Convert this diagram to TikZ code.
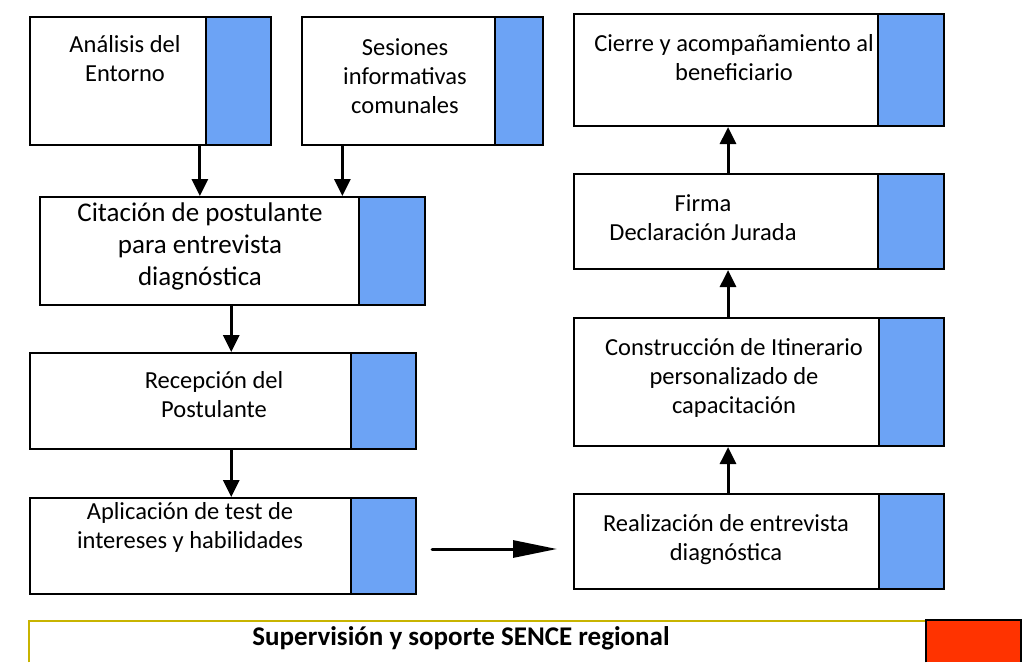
\documentclass[tikz,border=0pt]{standalone}
\usepackage{fontspec}
\setmainfont{Carlito}
\usetikzlibrary{arrows.meta,calc}
\definecolor{boxblue}{RGB}{108,163,245}
\definecolor{sred}{RGB}{255,51,0}
\definecolor{sgold}{RGB}{200,180,0}
\begin{document}
\begin{tikzpicture}[x=1pt,y=-1pt,
  wpart/.style={draw=black, line width=2pt, fill=white, rectangle, inner sep=0pt, anchor=north west},
  bpart/.style={draw=black, line width=2pt, fill=boxblue, rectangle, inner sep=0pt, anchor=north west},
  lbl/.style={align=center, anchor=base, inner sep=0pt, font=\fontsize{24.5}{29}\selectfont, text=black},
  biglbl/.style={lbl, font=\fontsize{27}{32}\selectfont},
  arr/.style={line width=3pt, -{Triangle[length=17pt,width=16pt]}},
  harr/.style={line width=3pt, line cap=round, -{Triangle[length=44pt,width=17pt]}}
]
\useasboundingbox (0,0) rectangle (1024,662);
\fill[white] (0,0) rectangle (1024,662);

% left column
\node[wpart, minimum width=176pt, minimum height=128pt] (w1) at (29,16) {};
\node[bpart, minimum width=65pt, minimum height=128pt] (c1) at (205,16) {};
\node[wpart, minimum width=193pt, minimum height=128pt] (w2) at (301,16) {};
\node[bpart, minimum width=48pt, minimum height=128pt] (c2) at (494,16) {};
\node[wpart, minimum width=319pt, minimum height=108pt] (w3) at (39,196) {};
\node[bpart, minimum width=66pt, minimum height=108pt] (c3) at (358,196) {};
\node[wpart, minimum width=321pt, minimum height=96pt] (w4) at (29,352) {};
\node[bpart, minimum width=65pt, minimum height=96pt] (c4) at (350,352) {};
\node[wpart, minimum width=321pt, minimum height=96pt] (w5) at (29,497) {};
\node[bpart, minimum width=65pt, minimum height=96pt] (c5) at (350,497) {};

% right column
\node[wpart, minimum width=304pt, minimum height=112pt] (w6) at (573,13) {};
\node[bpart, minimum width=66pt, minimum height=112pt] (c6) at (877,13) {};
\node[wpart, minimum width=304pt, minimum height=95pt] (w7) at (573,173) {};
\node[bpart, minimum width=66pt, minimum height=95pt] (c7) at (877,173) {};
\node[wpart, minimum width=305pt, minimum height=128pt] (w8) at (573,317) {};
\node[bpart, minimum width=65pt, minimum height=128pt] (c8) at (878,317) {};
\node[wpart, minimum width=305pt, minimum height=95pt] (w9) at (573,493) {};
\node[bpart, minimum width=65pt, minimum height=95pt] (c9) at (878,493) {};

% labels (anchor = baseline of the last line)
\node[lbl] (t1) at (125,81) {Análisis del\\Entorno};
\node[lbl] (t2) at (405,113) {Sesiones\\informativas\\comunales};
\node[biglbl] (t3) at (200,285) {Citación de postulante\\para entrevista\\diagnóstica};
\node[lbl] (t4) at (214,417) {Recepción del\\Postulante};
\node[lbl] (t5) at (190,548) {Aplicación de test de\\intereses y habilidades};
\node[lbl] (t6) at (734,80) {Cierre y acompañamiento al\\beneficiario};
\node[lbl] (t7) at (703,240) {Firma\\Declaración Jurada};
\node[lbl] (t8) at (734,413) {Construcción de Itinerario\\personalizado de\\capacitación};
\node[lbl] (t9) at (726,560) {Realización de entrevista\\diagnóstica};

% connectors
\draw[arr] ($(w1.south west)!0.96!(w1.south east)$) coordinate (a1) -- (a1 |- w3.north);
\draw[arr] ($(w2.south west)!0.212!(w2.south east)$) coordinate (a2) -- (a2 |- w3.north);
\draw[arr] ($(w3.south west)!0.599!(w3.south east)$) coordinate (a3) -- (a3 |- w4.north);
\draw[arr] (a3 |- w4.south) -- (a3 |- w5.north);
\draw[harr] ($(c5.east)+(15,3)$) coordinate (h1) -- ($(h1 -| w9.west)+(-16,0)$);
\draw[arr] ($(w9.north west)!0.505!(w9.north east)$) coordinate (a6) -- (a6 |- w8.south);
\draw[arr] (a6 |- w8.north) -- (a6 |- w7.south);
\draw[arr] (a6 |- w7.north) -- (a6 |- w6.south);

% bottom band
\node[fill=white, inner sep=0pt, anchor=north west, minimum width=897pt, minimum height=41pt] (sup) at (29,621) {};
\draw[sgold, line width=2pt] (sup.south west) -- (sup.north west) -- (sup.north east);
\node[fill=sred, inner sep=0pt, anchor=north west, minimum width=95pt, minimum height=42pt] (red) at (926,620) {};
\draw[black, line width=2pt] (red.south west) -- (red.north west) -- (red.north east) -- (red.south east);
\node[anchor=base, inner sep=0pt, font=\fontsize{27}{32}\selectfont\bfseries] (st) at (461,645) {Supervisión y soporte SENCE regional};
\end{tikzpicture}
\end{document}
